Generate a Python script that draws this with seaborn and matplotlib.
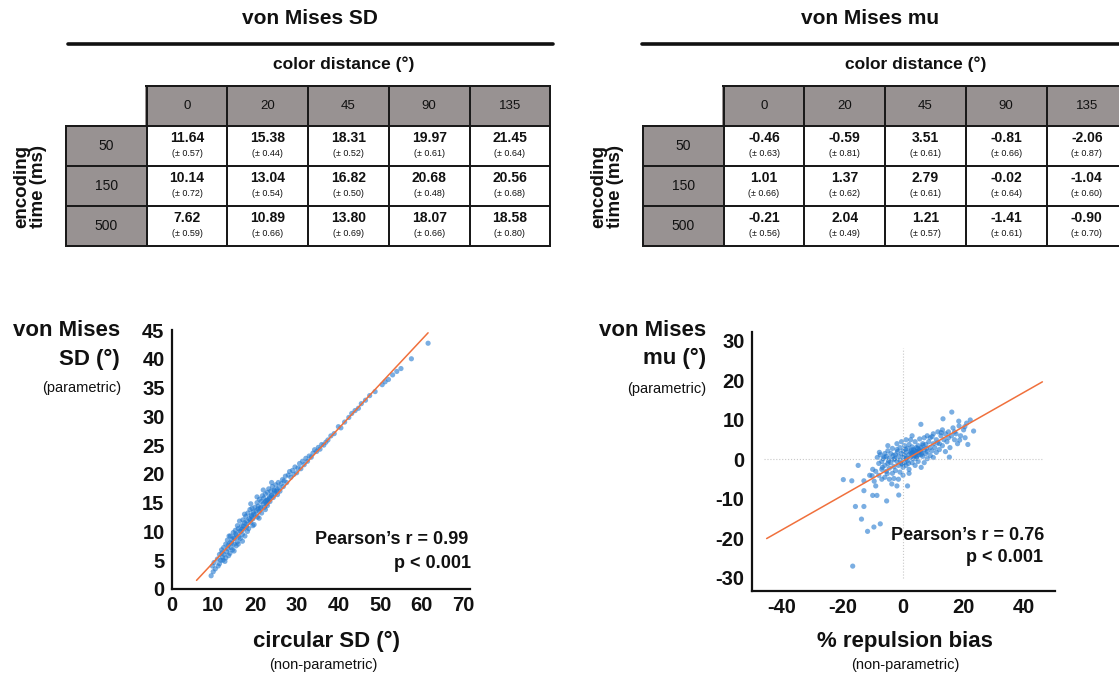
import numpy as np
import matplotlib
matplotlib.use('Agg')
import matplotlib.pyplot as plt
from matplotlib.colors import ListedColormap
from matplotlib.lines import Line2D
from matplotlib.patches import Rectangle
import seaborn as sns

# ---- table data ----
color_dist = ['0', '20', '45', '90', '135']
enc_time = ['50', '150', '500']

sd_mean = [[11.64, 15.38, 18.31, 19.97, 21.45],
           [10.14, 13.04, 16.82, 20.68, 20.56],
           [7.62, 10.89, 13.80, 18.07, 18.58]]
sd_sem = [[0.57, 0.44, 0.52, 0.61, 0.64],
          [0.72, 0.54, 0.50, 0.48, 0.68],
          [0.59, 0.66, 0.69, 0.66, 0.80]]

mu_mean = [[-0.46, -0.59, 3.51, -0.81, -2.06],
           [1.01, 1.37, 2.79, -0.02, -1.04],
           [-0.21, 2.04, 1.21, -1.41, -0.90]]
mu_sem = [[0.63, 0.81, 0.61, 0.66, 0.87],
          [0.66, 0.62, 0.61, 0.64, 0.60],
          [0.56, 0.49, 0.57, 0.61, 0.70]]

# ---- scatter data ----
circ_sd = [9.5, 9.8, 10.2, 10.5, 11.0, 11.2, 11.5, 11.8, 12.0, 12.2, 12.5, 12.6, 12.8,
           13.0, 13.2, 13.4, 13.5, 13.7, 14.0, 14.1, 14.3, 14.5, 14.6, 14.8, 15.0, 15.1,
           15.3, 15.5, 15.6, 15.8, 16.0, 16.1, 16.3, 16.5, 16.6, 16.8, 17.0, 17.1, 17.3,
           17.5, 17.6, 17.8, 18.0, 18.1, 18.3, 18.5, 18.6, 18.8, 19.0, 19.1, 19.3, 19.5,
           19.6, 19.8, 20.0, 20.1, 20.3, 20.5, 20.6, 20.8, 21.0, 21.1, 21.3, 21.5, 21.6,
           21.8, 22.0, 22.1, 22.3, 22.5, 22.6, 22.8, 23.0, 23.1, 23.3, 23.5, 23.6, 23.8,
           24.0, 24.2, 24.4, 24.6, 24.8, 25.0, 25.2, 25.4, 25.6, 25.8, 26.0, 26.3, 26.6,
           26.8, 27.0, 27.3, 27.6, 28.0, 28.3, 28.6, 29.0, 29.3, 29.6, 30.0, 30.3, 30.7,
           31.0, 31.4, 31.8, 32.2, 32.6, 33.0, 33.5, 33.9, 34.3, 34.8, 35.2, 35.6, 36.0,
           36.5, 37.0, 37.5, 38.2, 39.0, 40.0, 40.6, 41.5, 42.5, 43.2, 44.0, 44.8, 45.5,
           46.5, 47.5, 48.8, 50.5, 51.2, 52.0, 53.0, 54.0, 55.0, 57.5, 61.5,
           10.0, 11.5, 12.3, 13.0, 14.0, 15.0, 16.0, 17.0, 13.8, 15.8, 17.5, 19.0, 20.5,
           22.0, 18.2, 19.5, 21.0, 22.5, 24.0, 23.0,
           12.1, 13.6, 14.9, 16.4, 17.9, 19.2, 20.7, 22.4, 23.9, 25.3, 14.4, 16.9, 18.9,
           21.4, 23.4, 15.4, 17.2, 19.7, 22.9, 24.7]
vm_sd = [2.3, 4.0, 4.6, 3.5, 5.2, 4.0, 6.0, 5.0, 6.8, 5.5, 7.2, 6.0, 4.8,
         7.8, 6.5, 8.5, 7.0, 5.8, 8.0, 9.2, 7.2, 8.6, 6.8, 9.8, 7.8, 8.8,
         10.2, 7.5, 9.4, 8.2, 10.5, 9.0, 11.8, 8.8, 10.0, 11.0, 9.5, 12.0, 10.4,
         11.5, 9.2, 12.6, 10.8, 11.8, 13.2, 10.5, 12.2, 13.8, 11.6, 12.8, 14.0, 12.2,
         13.4, 11.2, 14.2, 12.9, 13.6, 15.0, 12.5, 14.4, 13.5, 15.6, 14.0, 15.2, 13.2,
         16.2, 14.8, 15.8, 14.2, 16.5, 15.3, 14.8, 16.8, 15.5, 17.4, 16.0, 15.2, 17.0,
         16.3, 17.8, 15.9, 17.2, 16.6, 18.1, 17.0, 16.4, 18.5, 17.6, 17.0, 18.3, 19.0,
         17.8, 18.8, 19.6, 18.5, 19.8, 20.4, 19.4, 20.6, 19.9, 21.2, 20.2, 21.0, 21.8,
         20.9, 22.2, 21.6, 22.7, 22.2, 23.1, 22.9, 23.6, 24.2, 23.9, 24.6, 24.3, 25.1,
         25.0, 25.5, 25.9, 26.6, 27.0, 28.2, 28.0, 29.0, 29.8, 30.5, 31.0, 31.4, 32.2,
         32.8, 33.6, 34.3, 35.5, 36.0, 36.4, 37.2, 37.8, 38.3, 40.0, 42.7,
         3.0, 4.4, 5.0, 5.4, 6.2, 6.6, 7.8, 8.3, 9.2, 11.0, 13.0, 14.8, 16.0,
         17.2, 10.0, 11.0, 12.3, 13.8, 18.5, 14.5,
         6.3, 7.6, 8.9, 10.1, 11.3, 12.6, 13.9, 15.1, 16.2, 17.3, 8.0, 10.4, 12.0,
         14.2, 15.7, 9.6, 10.9, 13.0, 15.4, 17.0]

rep_bias = [-16.6, -19.7, -16.9, -14.8, -12.9, -12.9, -15.7, -12.9, -13.7, -11.7, -9.6, -7.5,
            -10.0, -8.6, -5.4, -1.4, -2.0, 1.5, -3.7, -9.0, -10.2,
            16.1, 13.2, 5.9, 18.4, 22.2, 23.3, 21.4, 15.3, 20.4, 18.7,
            -8.5, -8.0, -7.5, -7.0, -7.0, -6.5, -6.0, -6.0, -5.5, -5.5, -5.0, -5.0, -4.5,
            -4.5, -4.0, -4.0, -3.5, -3.5, -3.0, -3.0, -2.5, -2.5, -2.0, -2.0, -1.5, -1.5,
            -1.0, -1.0, -1.0, -0.5, -0.5, 0.0, 0.0, 0.0, 0.5, 0.5, 0.5, 1.0, 1.0, 1.0,
            1.5, 1.5, 2.0, 2.0, 2.0, 2.5, 2.5, 3.0, 3.0, 3.0, 3.5, 3.5, 4.0, 4.0, 4.0,
            4.5, 4.5, 5.0, 5.0, 5.0, 5.5, 5.5, 6.0, 6.0, 6.0, 6.5, 6.5, 7.0, 7.0, 7.0,
            7.5, 7.5, 8.0, 8.0, 8.0, 8.5, 9.0, 9.0, 9.0, 9.5, 10.0, 10.0, 10.0, 10.5,
            11.0, 11.0, 11.5, 12.0, 12.0, 12.5, 13.0, 13.0, 13.5, 14.0, 14.0, 14.5, 15.0,
            15.0, 15.5, 16.0, 16.5, 17.0, 17.0, 17.5, 18.0, 18.5, 19.0, 20.0, 20.5, 21.0,
            -9.0, -8.0, -7.0, -6.0, -4.5, -3.0, -1.5, 0.0, 2.0, -10.0, -11.0, -9.5,
            -2.0, -0.5, 1.0, 3.0, 2.5, -5.0,
            3.2, 3.8, 4.2, 4.8, 5.2, 5.8, 2.8, 4.4, 3.6, 5.4,
            -7.8, -6.2, -4.8, -3.2, -1.8, -0.2, 1.2, 2.6, 6.6, 7.8, 9.6, 11.4, 12.6, 1.8,
            -6.8, -5.2, -2.8, 0.8, 4.6, 6.2]
vm_mu = [-27.0, -5.1, -5.4, -1.5, -5.4, -7.9, -11.9, -11.9, -15.1, -18.2, -17.1, -16.3,
         -9.1, -9.1, -10.5, -9.0, -6.7, -6.7, -6.2, -6.7, -4.1,
         12.0, 10.3, 8.9, 9.7, 10.0, 7.2, 3.8, 0.6, 8.3, 4.9,
         0.5, -1.0, 1.2, -0.5, -2.5, 0.2, 1.5, -1.5, -3.0, 0.8, -1.0, 2.2, 0.3,
         -2.2, 1.5, -0.8, -3.5, 2.8, 0.0, -1.8, 1.2, -2.8, 2.5, -0.5, 0.8, -1.5,
         3.0, -0.2, -3.2, 1.5, -1.0, 0.5, 2.2, -2.0, 1.0, 3.5, -0.8, 1.8, -1.5, 0.2,
         2.8, -0.3, 1.2, 3.8, -2.5, 0.5, 2.0, 1.5, -0.8, 3.2, 0.2, 2.5, 1.0, 4.5, -1.5,
         2.0, 0.3, 1.8, 3.5, -0.5, 2.5, 5.2, 1.2, 3.0, -2.0, 4.0, 0.8, 2.5, 5.5, -0.8,
         1.5, 3.8, 2.0, 6.0, 0.2, 4.5, 3.0, 5.5, 1.0, 2.2, 4.0, 6.5, 0.5, 3.0,
         5.0, 1.8, 7.0, 4.0, 2.5, 6.0, 3.5, 7.5, 5.0, 6.5, 2.0, 4.5, 7.0,
         5.5, 3.0, 6.0, 8.0, 5.0, 7.0, 6.5, 4.0, 8.5, 6.0, 7.5, 5.5, 9.2,
         -3.0, -4.0, -5.0, -4.5, -5.0, -4.8, -5.0, -4.0, -3.5, -2.5, -4.0, -5.5,
         4.0, 4.5, 5.0, 6.0, 5.0, 3.5,
         1.8, 2.2, 1.5, 2.8, 1.2, 2.0, 2.4, 3.0, 1.0, 2.2,
         1.8, 0.6, -0.4, 1.0, 2.0, -1.2, 0.4, 1.6, 3.6, 2.8, 5.8, 4.2, 6.8, -1.0,
         -2.0, -3.6, 0.2, 2.6, 0.8, 1.6]

# fitted lines
sd_fit = dict(slope=0.775, intercept=-3.15, x0=6.0, x1=61.5)
mu_fit = dict(slope=0.436, intercept=-0.4, x0=-45.0, x1=46.0)

W, H = 1119, 675
GRAY = '#989292'
DOT = '#2278cf'
FIT = '#f0703c'
INK = '#111111'


def fx(px):
    return px / W


def fy(py):
    return 1 - py / H


def draw_table(fig, left_px, means, sems, title, title_x, sub_x, enc_x):
    cell_w = 80.7
    top, bottom = 86, 246
    ax = fig.add_axes([fx(left_px), fy(bottom), 6 * cell_w / W, (bottom - top) / H])
    kind = np.ones((4, 6))
    kind[0, :] = 0
    kind[:, 0] = 0
    sns.heatmap(kind, cmap=ListedColormap([GRAY, 'white']), vmin=0, vmax=1,
                cbar=False, linewidths=1.3, linecolor='#1a1a1a',
                xticklabels=False, yticklabels=False, ax=ax)
    for coll in ax.collections:
        coll.set_clip_on(False)
    for sp in ax.spines.values():
        sp.set_visible(False)
    # blank corner cell: hide its outer borders
    ax.add_patch(Rectangle((-0.1, -0.2), 1.085, 1.17, facecolor='white', edgecolor='none',
                           clip_on=False, zorder=5))
    for j, lab in enumerate(color_dist):
        ax.text(j + 1.5, 0.5, lab, ha='center', va='center', fontsize=9.5)
    for i, lab in enumerate(enc_time):
        ax.text(0.5, i + 1.5, lab, ha='center', va='center', fontsize=10)
        for j in range(5):
            ax.text(j + 1.5, i + 1.30, f'{means[i][j]:.2f}', ha='center', va='center',
                    fontsize=10, fontweight='bold')
            ax.text(j + 1.5, i + 1.70, f'(\u00b1 {sems[i][j]:.2f})', ha='center', va='center',
                    fontsize=6.5)
    ax.set_xlabel('')
    ax.set_ylabel('')
    fig.text(fx(title_x), fy(18), title, ha='center', va='center', fontsize=15, fontweight='bold')
    fig.text(fx(sub_x), fy(64), 'color distance (\u00b0)', ha='center', va='center',
             fontsize=12.5, fontweight='bold')
    fig.text(fx(enc_x), fy(186), 'encoding\ntime (ms)', ha='center', va='center', rotation=90,
             fontsize=13.5, fontweight='bold', linespacing=0.95)


def style_axes(ax):
    sns.despine(ax=ax)
    for side in ['left', 'bottom']:
        ax.spines[side].set_linewidth(1.6)
        ax.spines[side].set_color(INK)
    ax.tick_params(direction='in', length=5, width=1.4, pad=5, labelsize=14.5, colors=INK)
    for lab in ax.get_xticklabels() + ax.get_yticklabels():
        lab.set_fontweight('bold')
    ax.set_xlabel('')
    ax.set_ylabel('')


sns.set_theme(style='white')
plt.rcParams['font.family'] = ['Liberation Sans', 'DejaVu Sans']
plt.rcParams['axes.unicode_minus'] = False
plt.rcParams['text.color'] = INK

fig = plt.figure(figsize=(W / 100, H / 100), dpi=100)

# ---- tables ----
draw_table(fig, 66, sd_mean, sd_sem, 'von Mises SD', 310, 344, 30)
draw_table(fig, 643, mu_mean, mu_sem, 'von Mises mu', 870, 916, 607)
fig.add_artist(Line2D([fx(68), fx(553)], [fy(44), fy(44)], color=INK, lw=2.6))
fig.add_artist(Line2D([fx(642), fx(1119)], [fy(44), fy(44)], color=INK, lw=2.6))

# ---- left scatter: von Mises SD vs circular SD ----
ax1 = fig.add_axes([fx(171.5), fy(589), 298.3 / W, 259 / H])
sns.scatterplot(x=circ_sd, y=vm_sd, ax=ax1, s=14, color=DOT, alpha=0.6, edgecolor='none')
xs = np.array([sd_fit['x0'], sd_fit['x1']])
ax1.plot(xs, sd_fit['slope'] * xs + sd_fit['intercept'], color=FIT, lw=1.1)
ax1.set_xlim(0, 71.5)
ax1.set_ylim(0, 45)
ax1.set_xticks(range(0, 71, 10))
ax1.set_yticks(range(0, 46, 5))
style_axes(ax1)
ax1.text(0.995, 0.19, 'Pearson\u2019s r = 0.99', transform=ax1.transAxes, ha='right',
         va='center', fontsize=13, fontweight='bold')
ax1.text(1.005, 0.10, 'p < 0.001', transform=ax1.transAxes, ha='right',
         va='center', fontsize=13, fontweight='bold')

fig.text(fx(120), fy(330), 'von Mises', ha='right', va='center', fontsize=16, fontweight='bold')
fig.text(fx(120), fy(359), 'SD (\u00b0)', ha='right', va='center', fontsize=16, fontweight='bold')
fig.text(fx(121), fy(388), '(parametric)', ha='right', va='center', fontsize=10.5)
fig.text(fx(327), fy(641), 'circular SD (\u00b0)', ha='center', va='center', fontsize=16,
         fontweight='bold')
fig.text(fx(323), fy(665), '(non-parametric)', ha='center', va='center', fontsize=10.5)

# ---- right scatter: von Mises mu vs % repulsion bias ----
ax2 = fig.add_axes([fx(751.5), fy(591.4), 303 / W, 259.1 / H])
ax2.axvline(0, ymin=0.05, ymax=0.94, color='#c8c8c8', lw=0.8, ls=':')
ax2.axhline(0, xmin=0.04, xmax=0.96, color='#c8c8c8', lw=0.8, ls=':')
sns.scatterplot(x=rep_bias, y=vm_mu, ax=ax2, s=14, color=DOT, alpha=0.6, edgecolor='none')
xs = np.array([mu_fit['x0'], mu_fit['x1']])
ax2.plot(xs, mu_fit['slope'] * xs + mu_fit['intercept'], color=FIT, lw=1.1)
ax2.set_xlim(-50, 50)
ax2.set_ylim(-33.4, 32.2)
ax2.set_xticks(range(-40, 41, 10))
ax2.set_xticklabels(['-40', '', '-20', '', '0', '', '20', '', '40'])
ax2.set_yticks(range(-30, 31, 10))
style_axes(ax2)
ax2.text(0.965, 0.215, 'Pearson\u2019s r = 0.76', transform=ax2.transAxes, ha='right',
         va='center', fontsize=13, fontweight='bold')
ax2.text(0.962, 0.13, 'p < 0.001', transform=ax2.transAxes, ha='right',
         va='center', fontsize=13, fontweight='bold')

fig.text(fx(706), fy(331), 'von Mises', ha='right', va='center', fontsize=16, fontweight='bold')
fig.text(fx(706), fy(358), 'mu (\u00b0)', ha='right', va='center', fontsize=16, fontweight='bold')
fig.text(fx(706), fy(389), '(parametric)', ha='right', va='center', fontsize=10.5)
fig.text(fx(905), fy(641), '% repulsion bias', ha='center', va='center', fontsize=16,
         fontweight='bold')
fig.text(fx(905), fy(665), '(non-parametric)', ha='center', va='center', fontsize=10.5)

fig.savefig('out.png', dpi=100)
